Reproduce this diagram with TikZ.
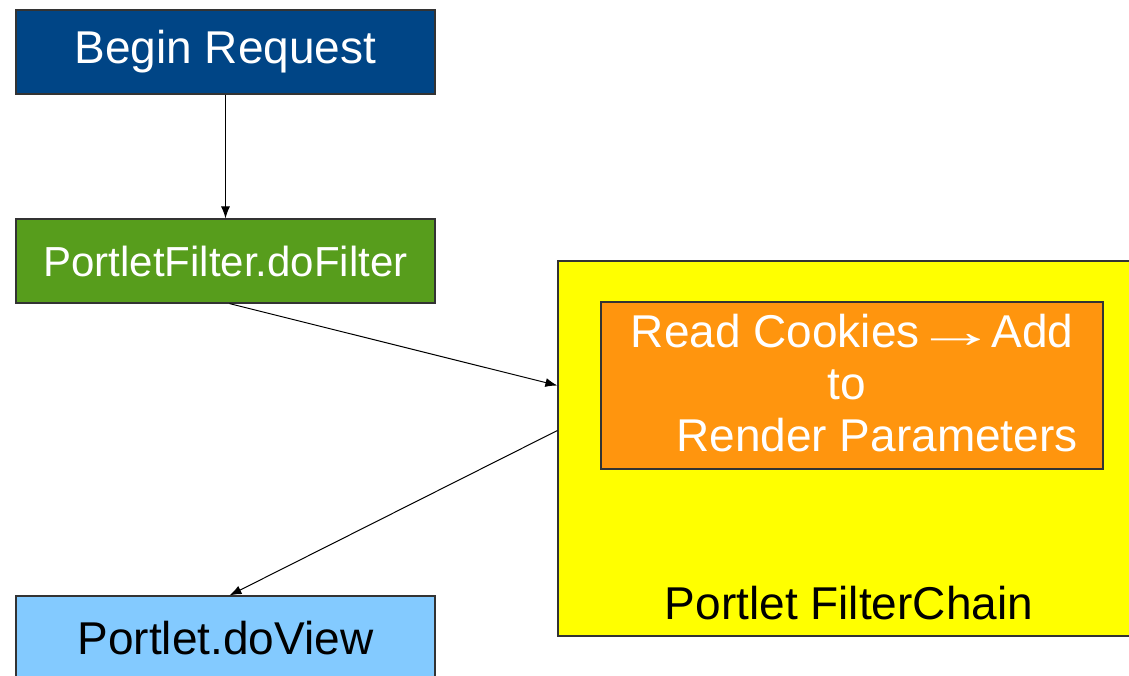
\documentclass[tikz,border=0pt]{standalone}
\usepackage{fontspec}
\setmainfont{Liberation Sans}
\usepackage{graphicx}
\usepackage{tikz}
\usetikzlibrary{positioning, calc, arrows.meta}
\definecolor{reqblue}{HTML}{004586}
\definecolor{filtergreen}{HTML}{579D1C}
\definecolor{chainyellow}{HTML}{FFFF00}
\definecolor{cookieorange}{HTML}{FF950E}
\definecolor{viewblue}{HTML}{83CAFF}
\definecolor{edgegray}{HTML}{333333}
\newcommand{\longarr}{\makebox[1em]{\scalebox{1.8}[1]{→}}}

\tikzset{
	box/.style={draw=edgegray, line width=1.2pt, inner sep=0pt, align=center,
		font=\fontsize{46}{52}\selectfont},
	flow/.style={-{Latex[length=12pt,width=9pt]}, line width=1pt, black}
}

\begin{document}
\begin{tikzpicture}[x=1pt, y=-1pt]
	\pgfmathsetmacro{\boxw}{419}
	\pgfmathsetmacro{\boxh}{84}
	\useasboundingbox (0,0) rectangle (1129,675);
	
	\node[box, fill=reqblue, text=white, minimum width=\boxw pt, minimum height=\boxh pt] (begin) at (225.5,52) {Begin Request};
	\node[box, fill=filtergreen, text=white, minimum width=\boxw pt, minimum height=\boxh pt, font=\fontsize{42}{48}\selectfont] (filter) at (225.5,261) {PortletFilter.doFilter};
	\node[box, fill=viewblue, text=black, minimum width=\boxw pt, minimum height=\boxh pt] (view) at (225.5,638) {Portlet.doView};
	
	\node[box, fill=chainyellow, minimum width=622pt, minimum height=375pt] (chain) at (869,448.5) {};
	\node[box, fill=cookieorange, text=white, minimum width=502pt, minimum height=167pt] (cookies) at (852,385.5) {Read Cookies \longarr{} Add\\\hspace*{-10pt}to\\\hspace*{50pt}Render Parameters\rule[-6pt]{0pt}{1pt}};
	\node[font=\fontsize{46}{52}\selectfont, text=black, inner sep=0pt] (chainlbl) at (849,603) {Portlet FilterChain};
	
	\coordinate (chainin) at ([yshift=63pt]chain.west);
	\coordinate (chainout) at ([yshift=18pt]chain.west);
	
	\draw[flow] (begin.south) -- (filter.north);
	\draw[flow] ([xshift=4pt]filter.south) -- (chainin);
	\draw[flow] (chainout) -- ([xshift=4pt]view.north);
\end{tikzpicture}
\end{document}
